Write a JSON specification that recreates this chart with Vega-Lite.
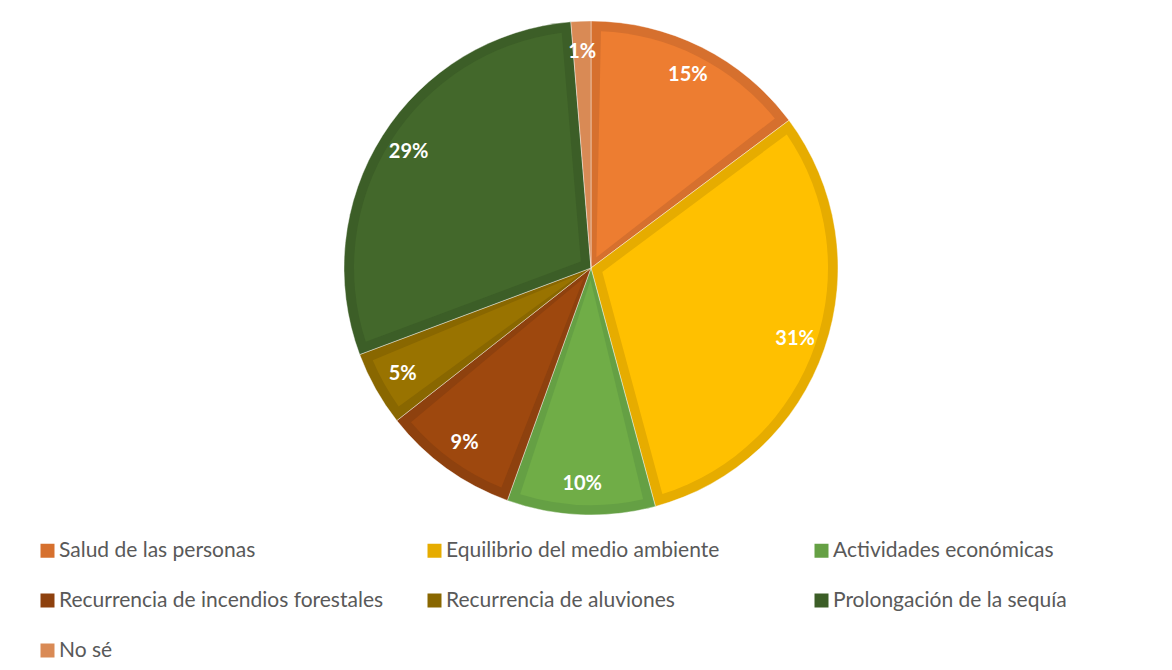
{
  "$schema": "https://vega.github.io/schema/vega-lite/v6.json",
  "width": 1162,
  "height": 536,
  "autosize": {"type": "none"},
  "padding": {"left": 10, "top": 0, "right": 0, "bottom": 134},
  "background": "#ffffff",
  "config": {
    "view": {"stroke": null},
    "font": "Lato"
  },
  "data": {
    "values": [
      {"idx": 1, "cat": "Salud de las personas", "pct": 0.148},
      {"idx": 2, "cat": "Equilibrio del medio ambiente", "pct": 0.310},
      {"idx": 3, "cat": "Actividades económicas", "pct": 0.097},
      {"idx": 4, "cat": "Recurrencia de incendios forestales", "pct": 0.089},
      {"idx": 5, "cat": "Recurrencia de aluviones", "pct": 0.049},
      {"idx": 6, "cat": "Prolongación de la sequía", "pct": 0.294},
      {"idx": 7, "cat": "No sé", "pct": 0.013}
    ]
  },
  "encoding": {
    "theta": {"field": "pct", "type": "quantitative", "stack": true},
    "order": {"field": "idx", "type": "quantitative"}
  },
  "layer": [
    {
      "mark": {"type": "arc", "radius": 247, "stroke": "#ffffff", "strokeWidth": 0.8, "strokeOpacity": 0.5},
      "encoding": {
        "color": {
          "field": "cat",
          "type": "nominal",
          "scale": {
            "domain": ["Salud de las personas", "Equilibrio del medio ambiente", "Actividades económicas", "Recurrencia de incendios forestales", "Recurrencia de aluviones", "Prolongación de la sequía", "No sé"],
            "range": ["#D6702E", "#E6AC00", "#65A044", "#8E410E", "#896700", "#3C5E27", "#D98A55"]
          },
          "legend": {
            "title": null,
            "orient": "none",
            "legendX": 27,
            "legendY": 540,
            "direction": "horizontal",
            "columns": 3,
            "gridAlign": "all",
            "columnPadding": 40,
            "rowPadding": 28,
            "padding": 0,
            "symbolType": "square",
            "symbolSize": 196,
            "symbolStrokeWidth": 0,
            "labelFont": "Lato",
            "labelFontSize": 21,
            "labelColor": "#595959",
            "labelOffset": 1,
            "labelLimit": 500
          }
        }
      }
    },
    {
      "mark": {"type": "arc", "radius": 237, "innerRadius": 12, "padAngle": 0.084},
      "encoding": {
        "fill": {
          "field": "cat",
          "type": "nominal",
          "scale": {
            "domain": ["Salud de las personas", "Equilibrio del medio ambiente", "Actividades económicas", "Recurrencia de incendios forestales", "Recurrencia de aluviones", "Prolongación de la sequía", "No sé"],
            "range": ["#ED7D31", "#FFC000", "#70AD47", "#9E480E", "#997300", "#43682B", "#F1975A"]
          },
          "legend": null
        }
      }
    },
    {
      "mark": {"type": "text", "radius": 216, "fill": "#ffffff", "fontWeight": "bold", "fontSize": 20, "font": "Lato"},
      "encoding": {
        "text": {"field": "pct", "type": "quantitative", "format": ".0%"}
      }
    }
  ]
}
